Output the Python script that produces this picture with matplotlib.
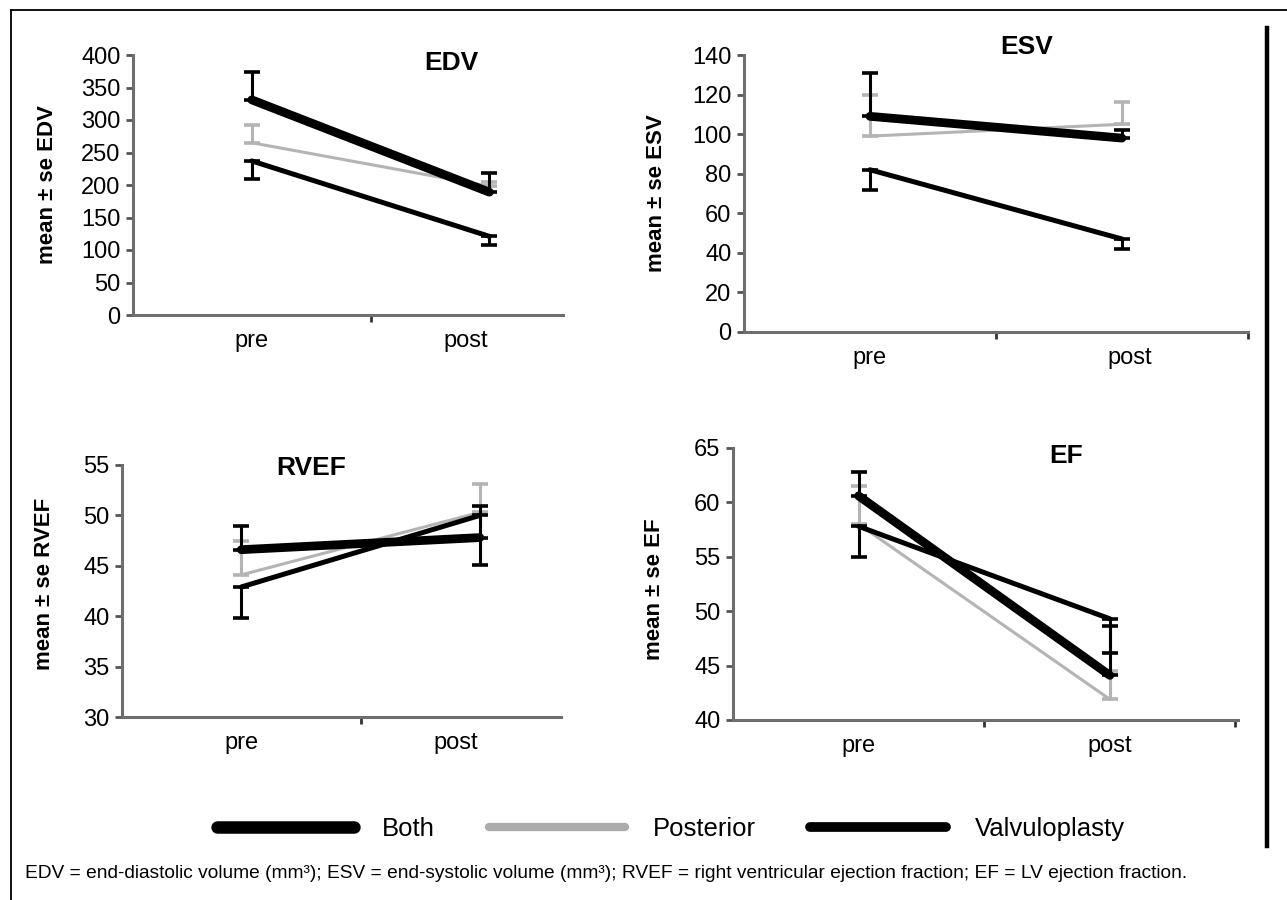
import matplotlib
matplotlib.use("Agg")
import matplotlib.pyplot as plt
from matplotlib.lines import Line2D

plt.rcParams['font.family'] = ['Liberation Sans', 'DejaVu Sans']

groups = ['Both', 'Posterior', 'Valvuloplasty']
phases = ['pre', 'post']

# mean values and the end of the one-sided s.e. bar
edv_means = {'Both': [331, 189], 'Posterior': [265, 198], 'Valvuloplasty': [237, 121]}
edv_bars = {'Both': [374, 218], 'Posterior': [292, 205], 'Valvuloplasty': [209, 108]}

esv_means = {'Both': [109, 98], 'Posterior': [99, 105], 'Valvuloplasty': [82, 47]}
esv_bars = {'Both': [131, 102], 'Posterior': [120, 116], 'Valvuloplasty': [72, 42]}

rvef_means = {'Both': [46.6, 47.8], 'Posterior': [44.1, 50.3], 'Valvuloplasty': [42.9, 50.0]}
rvef_bars = {'Both': [48.9, 50.9], 'Posterior': [47.5, 53.1], 'Valvuloplasty': [39.8, 45.1]}

ef_means = {'Both': [60.6, 44.1], 'Posterior': [58.0, 41.9], 'Valvuloplasty': [57.8, 49.3]}
ef_bars = {'Both': [62.8, 48.6], 'Posterior': [61.5, 44.5], 'Valvuloplasty': [55.0, 46.2]}

edv_ticks = [0, 50, 100, 150, 200, 250, 300, 350, 400]
esv_ticks = [0, 20, 40, 60, 80, 100, 120, 140]
rvef_ticks = [30, 35, 40, 45, 50, 55]
ef_ticks = [40, 45, 50, 55, 60, 65]

caption = ("EDV = end-diastolic volume (mm\u00b3); ESV = end-systolic volume (mm\u00b3); "
           "RVEF = right ventricular ejection fraction; EF = LV ejection fraction.")

styles = {
    'Both': dict(color='black', lw=6.3, z=4),
    'Posterior': dict(color='#b4b4b4', lw=2.2, z=2),
    'Valvuloplasty': dict(color='black', lw=3.6, z=3),
}

fig = plt.figure(figsize=(12.87, 9.0), dpi=100)
W, H = 1287.0, 900.0


def px_axes(left, right, top, bottom):
    return fig.add_axes([left / W, (H - bottom) / H, (right - left) / W, (bottom - top) / H])


def panel(ax, means, bars, ticks, title, title_xy, xmax, post_pos, ylab_xy):
    x = [0, 1]
    for g in ['Posterior', 'Valvuloplasty', 'Both']:
        st = styles[g]
        m = means[g]
        b = bars[g]
        lower = [max(mi - bi, 0) for mi, bi in zip(m, b)]
        upper = [max(bi - mi, 0) for mi, bi in zip(m, b)]
        ax.errorbar(x, m, yerr=[lower, upper], color=st['color'], lw=st['lw'],
                    elinewidth=2.2, capsize=6, capthick=2.6, ecolor=st['color'],
                    zorder=st['z'], solid_capstyle='round')
    ax.set_xlim(-0.5, xmax)
    ax.set_ylim(ticks[0], ticks[-1])
    ax.set_yticks(ticks)
    ax.set_xticks([0, post_pos])
    ax.set_xticklabels(phases)
    ax.set_xticks([0.5] + ([1.5] if xmax > 1.45 else []), minor=True)
    for s in ['top', 'right']:
        ax.spines[s].set_visible(False)
    for s in ['left', 'bottom']:
        ax.spines[s].set_color('#6e6e6e')
        ax.spines[s].set_linewidth(2.2)
    ax.tick_params(axis='y', length=5, width=2, color='#555555', labelsize=17, pad=4)
    ax.tick_params(axis='x', which='major', length=0, labelsize=17, pad=11)
    ax.tick_params(axis='x', which='minor', length=5, width=2, color='#333333')
    ax.text(title_xy[0], title_xy[1], title, transform=ax.transAxes, ha='center',
            va='center', fontsize=19, fontweight='bold')
    ax.set_ylabel('mean \u00b1 se ' + title, fontsize=16, fontweight='bold')
    ax.yaxis.set_label_coords(ylab_xy[0], ylab_xy[1])
    ax.patch.set_alpha(0)


ax1 = px_axes(133, 563, 55, 315)
panel(ax1, edv_means, edv_bars, edv_ticks, 'EDV', (0.74, 0.97), 1.31, 0.9, (-0.174, 0.5))

ax2 = px_axes(744, 1248, 55, 332)
panel(ax2, esv_means, esv_bars, esv_ticks, 'ESV', (0.56, 1.03), 1.48, 1.03, (-0.153, 0.5))

ax3 = px_axes(122, 561, 465, 717)
panel(ax3, rvef_means, rvef_bars, rvef_ticks, 'RVEF', (0.43, 0.99), 1.34, 0.9, (-0.153, 0.53))

ax4 = px_axes(733, 1238, 448, 720)
panel(ax4, ef_means, ef_bars, ef_ticks, 'EF', (0.66, 0.97), 1.51, 1.0, (-0.135, 0.48))

# legend with the fat line swatches of the original
handles = [
    Line2D([], [], color='black', lw=9, solid_capstyle='round'),
    Line2D([], [], color='#acacac', lw=6, solid_capstyle='round'),
    Line2D([], [], color='black', lw=7, solid_capstyle='round'),
]
fig.legend(handles, groups, loc='center', bbox_to_anchor=(671 / W, 1 - 829 / H),
           ncol=3, frameon=False, fontsize=18.5, handlelength=5.3, handletextpad=1.1,
           columnspacing=2.1)

fig.text(25 / W, 1 - 873 / H, caption, ha='left', va='center', fontsize=13.8)

# outer frame (top and left) and the thick rule at the right
fig.add_artist(Line2D([11 / W, 1.0], [1 - 10 / H, 1 - 10 / H], color='black', lw=1.3))
fig.add_artist(Line2D([11 / W, 11 / W], [0.0, 1 - 10 / H], color='black', lw=1.3))
fig.add_artist(Line2D([1267 / W, 1267 / W], [1 - 846 / H, 1 - 28 / H], color='black', lw=3.2))

fig.savefig('out.png', dpi=100)
plt.close(fig)
